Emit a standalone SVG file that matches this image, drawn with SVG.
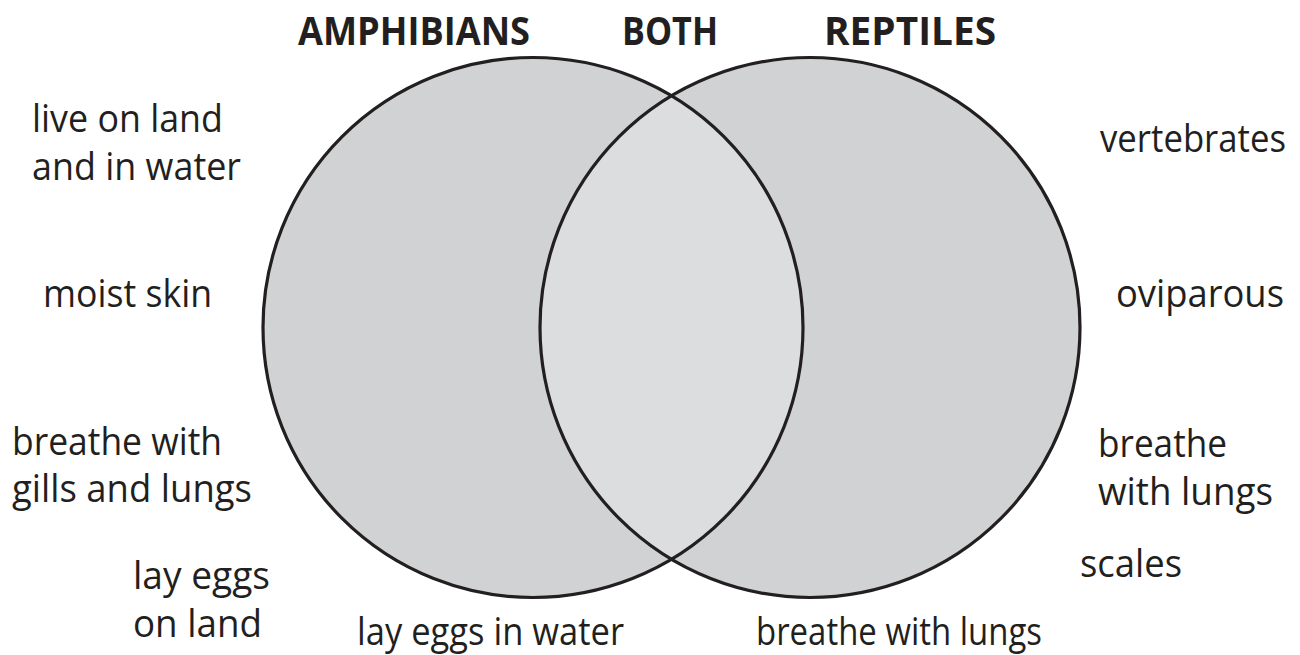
<svg xmlns="http://www.w3.org/2000/svg" width="1300" height="655" viewBox="0 0 1300 655">
<style>
.t{font-family:"Open Sans","DejaVu Sans",sans-serif;font-size:38px;fill:#231f20}
.h{font-family:"Open Sans","DejaVu Sans",sans-serif;font-size:39px;font-weight:700;fill:#231f20}
.ring{fill:none;stroke:#231f20;stroke-width:3.2}
</style>
<rect width="1300" height="655" fill="#ffffff"/>
<g id="circles">
<circle id="amphibians-circle" cx="533" cy="327.5" r="270" fill="#d1d2d4"/>
<circle id="reptiles-circle" cx="810" cy="327.5" r="270" fill="#d1d2d4"/>
<path id="both-lens" d="M671.5 95.7 A270 270 0 0 1 671.5 559.3 A270 270 0 0 1 671.5 95.7 Z" fill="#dcdddf"/>
<circle class="ring" cx="533" cy="327.5" r="270"/>
<circle class="ring" cx="810" cy="327.5" r="270"/>
</g>
<g id="titles">
<text class="h" x="298" y="45" textLength="232" lengthAdjust="spacingAndGlyphs">AMPHIBIANS</text>
<text class="h" x="622" y="45" textLength="96" lengthAdjust="spacingAndGlyphs">BOTH</text>
<text class="h" x="824" y="45" textLength="172" lengthAdjust="spacingAndGlyphs">REPTILES</text>
</g>
<g id="amphibian-traits">
<text class="t" x="32" y="132" textLength="191" lengthAdjust="spacingAndGlyphs">live on land</text>
<text class="t" x="32" y="180" textLength="209" lengthAdjust="spacingAndGlyphs">and in water</text>
<text class="t" x="43" y="307" textLength="169" lengthAdjust="spacingAndGlyphs">moist skin</text>
<text class="t" x="12" y="455" textLength="210" lengthAdjust="spacingAndGlyphs">breathe with</text>
<text class="t" x="12" y="502" textLength="240" lengthAdjust="spacingAndGlyphs">gills and lungs</text>
<text class="t" x="133" y="589" textLength="137" lengthAdjust="spacingAndGlyphs">lay eggs</text>
<text class="t" x="133" y="637" textLength="129" lengthAdjust="spacingAndGlyphs">on land</text>
<text class="t" x="357" y="645" textLength="267" lengthAdjust="spacingAndGlyphs">lay eggs in water</text>
</g>
<g id="reptile-traits">
<text class="t" x="1100" y="152" font-size="35" textLength="186" lengthAdjust="spacingAndGlyphs">vertebrates</text>
<text class="t" x="1116" y="307" textLength="168" lengthAdjust="spacingAndGlyphs">oviparous</text>
<text class="t" x="1098" y="457" textLength="129" lengthAdjust="spacingAndGlyphs">breathe</text>
<text class="t" x="1098" y="505" textLength="175" lengthAdjust="spacingAndGlyphs">with lungs</text>
<text class="t" x="1080" y="577" textLength="102" lengthAdjust="spacingAndGlyphs">scales</text>
<text class="t" x="756" y="645" textLength="286" lengthAdjust="spacingAndGlyphs">breathe with lungs</text>
</g>
</svg>
